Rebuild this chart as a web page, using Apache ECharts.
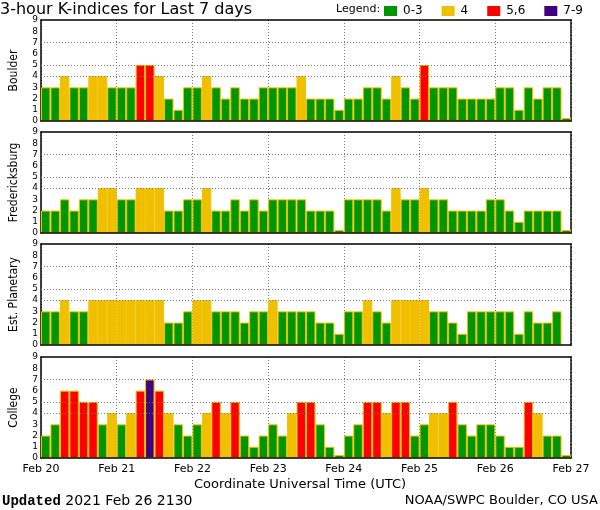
<!DOCTYPE html>
<html>
<head>
<meta charset="utf-8">
<script src="https://cdn.jsdelivr.net/npm/echarts@6/dist/echarts.min.js"></script>
<style>
html, body { margin: 0; padding: 0; background: #fff; }
#chart { width: 600px; height: 510px; }
</style>
</head>
<body>
<div id="chart"></div>
<script>
// day boundaries on the time axis and the 3-hour slots in each day
const days = ['Feb 20', 'Feb 21', 'Feb 22', 'Feb 23', 'Feb 24', 'Feb 25', 'Feb 26', 'Feb 27'];
const hours = ['00', '03', '06', '09', '12', '15', '18', '21'];
const stations = ['Boulder', 'Fredericksburg', 'Est. Planetary', 'College'];

// K-index per 3-hour slot, Feb 20 00 UTC .. Feb 26 21 UTC
const boulder = [
    3, 3, 4, 3, 3, 4, 4, 3,
    3, 3, 5, 5, 4, 2, 1, 3,
    3, 4, 3, 2, 3, 2, 2, 3,
    3, 3, 3, 4, 2, 2, 2, 1,
    2, 2, 3, 3, 2, 4, 3, 2,
    5, 3, 3, 3, 2, 2, 2, 2,
    3, 3, 1, 3, 2, 3, 3, 0
];
const fredericksburg = [
    2, 2, 3, 2, 3, 3, 4, 4,
    3, 3, 4, 4, 4, 2, 2, 3,
    3, 4, 2, 2, 3, 2, 3, 2,
    3, 3, 3, 3, 2, 2, 2, 0,
    3, 3, 3, 3, 2, 4, 3, 3,
    4, 3, 3, 2, 2, 2, 2, 3,
    3, 2, 1, 2, 2, 2, 2, 0
];
const planetary = [
    3, 3, 4, 3, 3, 4, 4, 4,
    4, 4, 4, 4, 4, 2, 2, 3,
    4, 4, 3, 3, 3, 2, 3, 3,
    4, 3, 3, 3, 3, 2, 2, 1,
    3, 3, 4, 3, 2, 4, 4, 4,
    4, 3, 3, 2, 1, 3, 3, 3,
    3, 3, 1, 3, 2, 2, 3, null
];
const college = [
    2, 3, 6, 6, 5, 5, 3, 4,
    3, 4, 6, 7, 6, 4, 3, 2,
    3, 4, 5, 4, 5, 2, 1, 2,
    3, 2, 4, 5, 5, 3, 1, 0,
    2, 3, 5, 5, 4, 5, 5, 2,
    3, 4, 4, 5, 3, 2, 3, 3,
    2, 1, 1, 5, 4, 2, 2, 0
];
const kLevels = [4, 5, 7];

const slots = [];
for (const d of days.slice(0, 7)) {
    for (const h of hours) slots.push(d + ' ' + h);
}

const FONT = 'DejaVu Sans';
const panels = [boulder, fredericksburg, planetary, college];
const gridTops = [20, 132, 244, 357];

const grid = [], xAxis = [], yAxis = [], series = [];

panels.forEach((values, i) => {
    grid.push({ left: 36, right: 29, top: gridTops[i], height: 101 });

    // the bars themselves, with little yellow marks at each slot
    xAxis.push({
        type: 'category', gridIndex: i, data: slots, z: 5,
        axisLine: { onZero: false, lineStyle: { color: '#000', width: 1.5 } },
        axisTick: { inside: true, alignWithLabel: true, length: 2, lineStyle: { color: '#f0b400' } },
        axisLabel: { show: false },
        splitLine: { show: false }
    });
    // day lines and date labels
    xAxis.push({
        type: 'value', gridIndex: i, min: 0, max: 7, interval: 1, position: 'bottom',
        axisLine: { show: false, onZero: false },
        axisTick: { show: false },
        splitLine: { show: true, lineStyle: { color: '#777', type: [1, 2] } },
        axisLabel: {
            show: i === 3, margin: 6, color: '#000', fontSize: 11, fontFamily: FONT,
            formatter: v => days[v]
        }
    });
    // top border
    xAxis.push({
        type: 'value', gridIndex: i, min: 0, max: 7, position: 'top',
        axisLine: { show: true, onZero: false, lineStyle: { color: '#000', width: 1.5 } },
        axisTick: { show: false }, axisLabel: { show: false }, splitLine: { show: false }
    });

    yAxis.push({
        type: 'value', gridIndex: i, min: 0, max: 9, interval: 1,
        name: stations[i], nameLocation: 'middle', nameGap: 21,
        nameTextStyle: { color: '#000', fontSize: 12, fontFamily: 'DejaVu Sans Condensed, ' + FONT },
        axisLine: { show: true, onZero: false, lineStyle: { color: '#000', width: 1.5 } },
        axisTick: { show: false },
        axisLabel: { color: '#000', fontSize: 9, margin: 3, fontFamily: FONT },
        splitLine: { show: false }
    });
    yAxis.push({
        type: 'value', gridIndex: i, min: 0, max: 9, position: 'right',
        axisLine: { show: true, onZero: false, lineStyle: { color: '#000', width: 1.5, type: [3, 1] } },
        axisTick: { show: false }, axisLabel: { show: false }, splitLine: { show: false }
    });

    series.push({
        type: 'bar', name: stations[i], xAxisIndex: i * 3, yAxisIndex: i * 2,
        data: values, barCategoryGap: '0%', barMinHeight: 3, z: 3,
        itemStyle: { borderColor: '#f0c000', borderWidth: 1 },
        emphasis: { disabled: true }
    });
    // dotted K-level guides, kept behind the bars
    series.push({
        type: 'line', xAxisIndex: i * 3, yAxisIndex: i * 2, data: [], z: 1, silent: true,
        markLine: {
            silent: true, symbol: 'none', label: { show: false },
            lineStyle: { color: '#777', type: [1, 2], width: 1 },
            data: kLevels.map(k => ({ yAxis: k }))
        }
    });
});

const chart = echarts.init(document.getElementById('chart'));
chart.setOption({
    animation: false,
    backgroundColor: '#fff',
    title: {
        text: '3-hour K-indices for Last 7 days', left: 0, top: 2, padding: 0,
        textStyle: { fontSize: 16, fontWeight: 'normal', color: '#000', fontFamily: FONT }
    },
    visualMap: {
        type: 'piecewise', orient: 'horizontal', left: 384, top: 5, padding: 0,
        seriesIndex: [0, 2, 4, 6], hoverLink: false, selectedMode: false,
        itemWidth: 13, itemHeight: 10, itemGap: 19, textGap: 6, itemSymbol: 'rect',
        textStyle: { color: '#000', fontSize: 12, fontFamily: FONT },
        pieces: [
            { gte: 0, lte: 3, label: '0-3', color: '#009600' },
            { gte: 4, lte: 4, label: '4', color: '#f0c000' },
            { gte: 5, lte: 6, label: '5,6', color: '#ff0000' },
            { gte: 7, lte: 9, label: '7-9', color: '#400080' }
        ]
    },
    graphic: [
        { type: 'text', left: 336, top: 4, style: { text: 'Legend:', fontSize: 11, fontFamily: FONT, fill: '#000' } },
        { type: 'text', left: 'center', top: 478, style: { text: 'Coordinate Universal Time (UTC)', fontSize: 13, fontFamily: FONT, fill: '#000' } },
        {
            type: 'text', left: 2, top: 494,
            style: {
                text: '{b|Updated} 2021 Feb 26 2130', fontSize: 14, fontFamily: FONT, fill: '#000',
                rich: { b: { fontFamily: 'Liberation Mono', fontWeight: 'bold', fontSize: 14 } }
            }
        },
        { type: 'text', right: 2, top: 494, style: { text: 'NOAA/SWPC Boulder, CO USA', fontSize: 13, fontFamily: FONT, fill: '#000' } }
    ],
    grid: grid,
    xAxis: xAxis,
    yAxis: yAxis,
    series: series
});
</script>
</body>
</html>
